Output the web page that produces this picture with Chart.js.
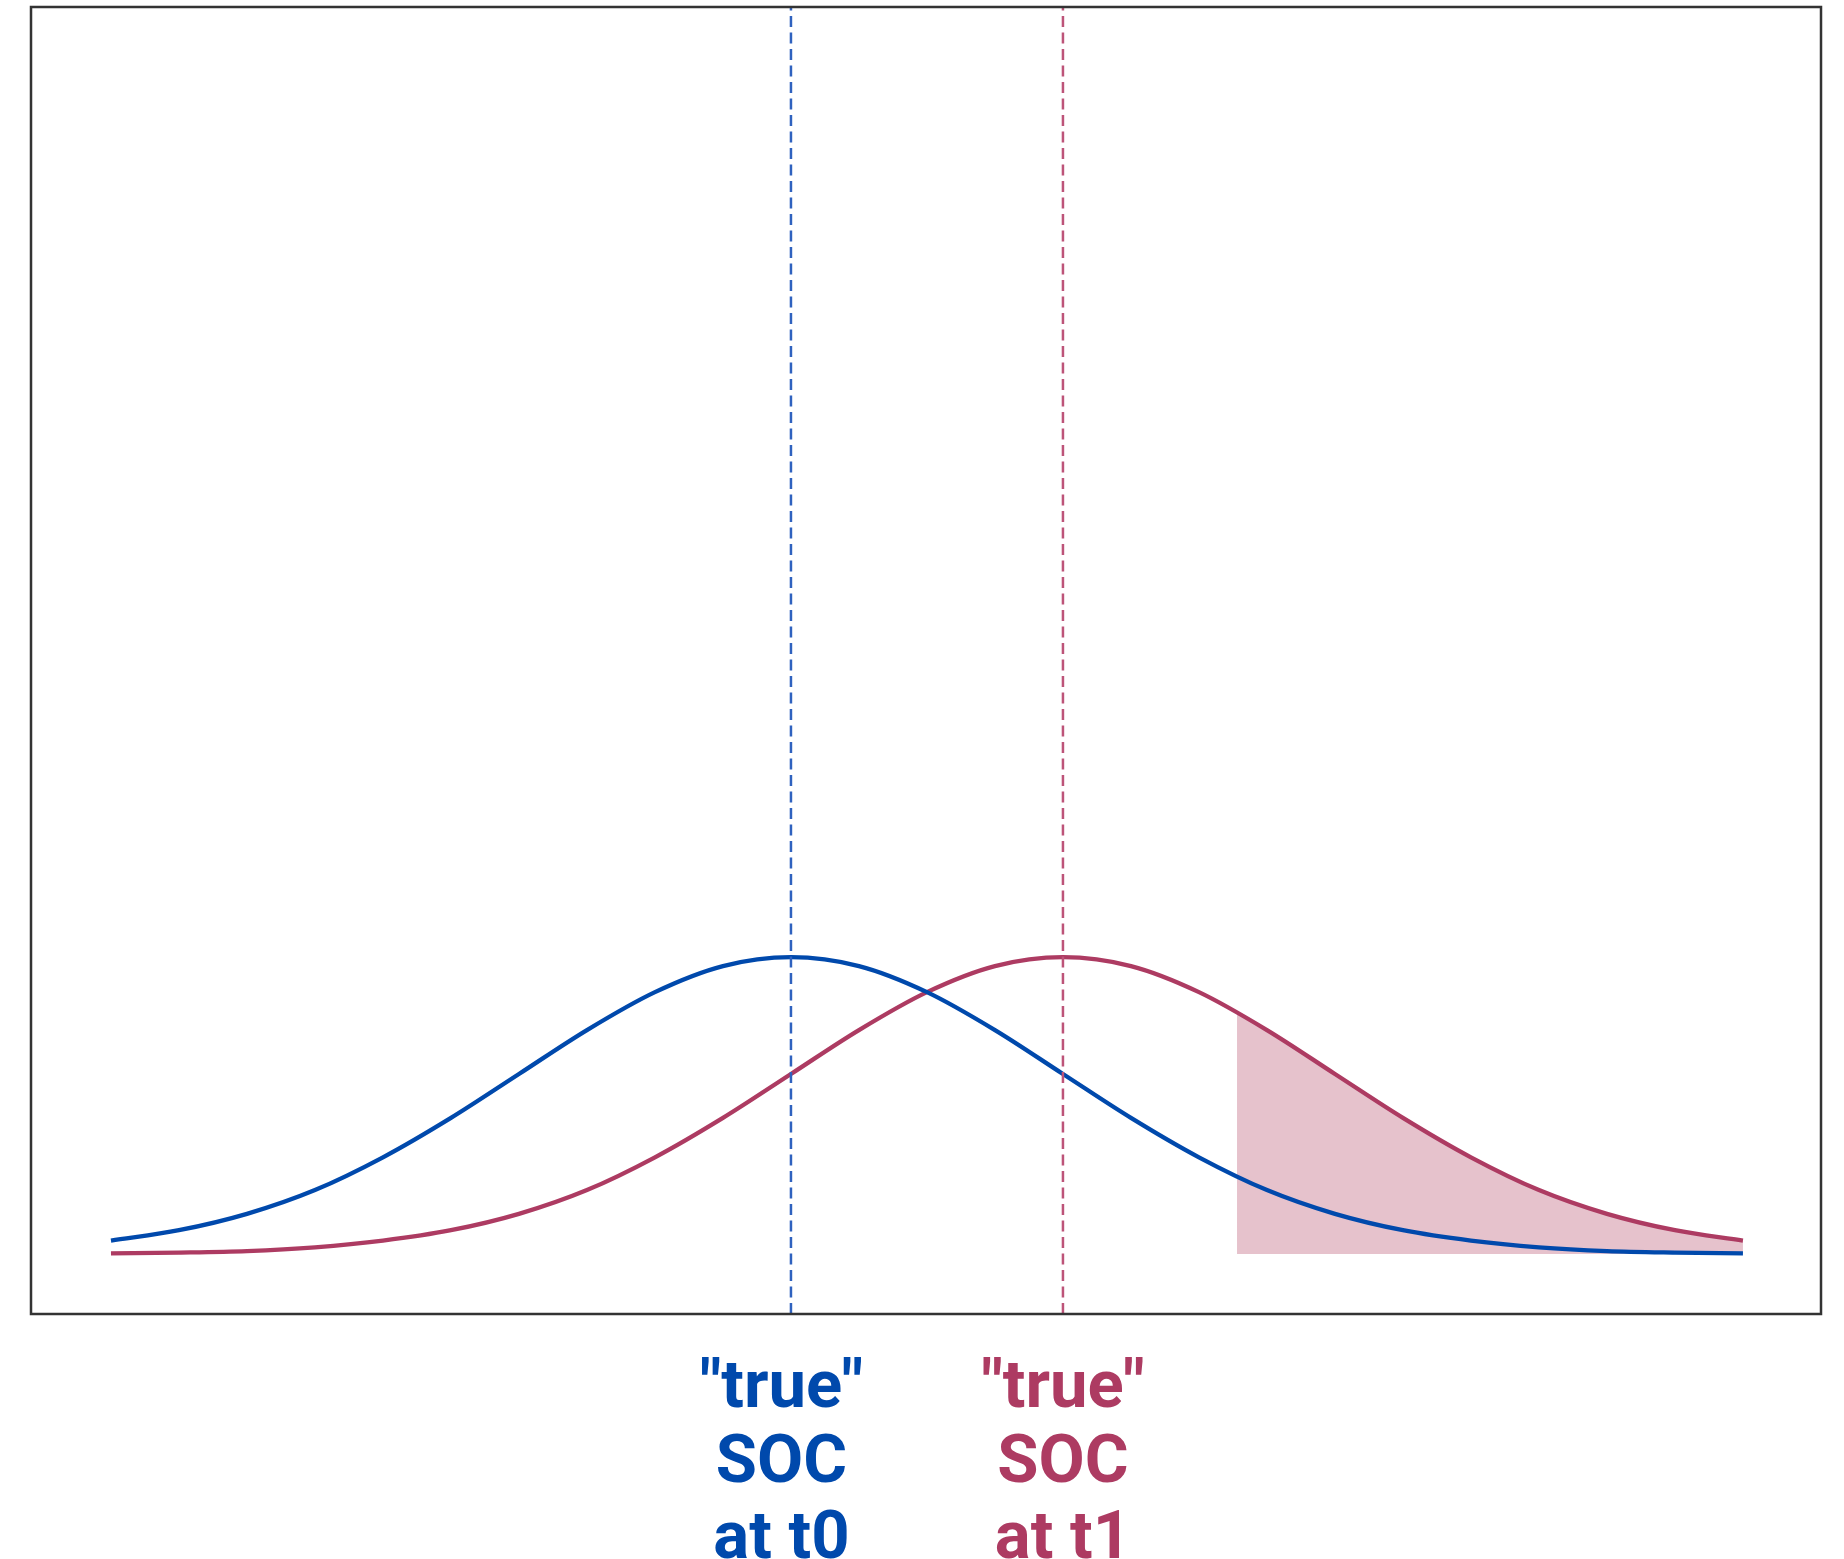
<!DOCTYPE html>
<html>
<head>
<meta charset="utf-8">
<script src="https://cdn.jsdelivr.net/npm/chart.js@4.4.0/dist/chart.umd.min.js"></script>
<style>
  html, body { margin: 0; padding: 0; background: #fff; }
  #wrap { width: 1844px; height: 1559px; }
</style>
</head>
<body>
<div id="wrap"><canvas id="socChart"></canvas></div>
<script>
    // values (x in units of the shift between the two means)
    const xValues = [-2.5, -2.25, -2, -1.75, -1.5, -1.25, -1, -0.75, -0.5, -0.25, 0, 0.25, 0.5, 0.75, 1, 1.25, 1.5, 1.75, 2, 2.25, 2.5, 2.75, 3, 3.25, 3.5];
    const blueDensity = [0.018, 0.032, 0.054, 0.086, 0.130, 0.183, 0.242, 0.301, 0.352, 0.387, 0.399, 0.387, 0.352, 0.301, 0.242, 0.183, 0.130, 0.086, 0.054, 0.032, 0.018, 0.009, 0.004, 0.002, 0.001];
    const redDensity = [0.001, 0.002, 0.004, 0.009, 0.018, 0.032, 0.054, 0.086, 0.130, 0.183, 0.242, 0.301, 0.352, 0.387, 0.399, 0.387, 0.352, 0.301, 0.242, 0.183, 0.130, 0.086, 0.054, 0.032, 0.018];

    // shaded tail of the t1 curve
    const shadeX = [1.64, 1.75, 2, 2.25, 2.5, 2.75, 3, 3.25, 3.5];
    const shadeDensity = [0.325, 0.301, 0.242, 0.183, 0.130, 0.086, 0.054, 0.032, 0.018];

    // "true" SOC markers
    const markerT0 = 0;
    const markerT1 = 1;

    // label positions and text under the plot
    const tickValues = [-0.035, 1];
    const tickLabels = [['"true"', 'SOC', 'at t0'], ['"true"', 'SOC', 'at t1']];
    const tickColors = ['#0049ac', '#ad3b62'];

    const xMin = -2.794, xMax = 3.787;
    const yMin = -0.0806, yMax = 1.676;

    const toPoints = (xs, ys) => xs.map((x, i) => ({ x: x, y: ys[i] }));

    const framePlugin = {
        id: 'frame',
        afterDraw(chart) {
            const a = chart.chartArea;
            const c = chart.ctx;
            c.save();
            c.strokeStyle = '#333333';
            c.lineWidth = 2.5;
            c.strokeRect(a.left, a.top, a.right - a.left, a.bottom - a.top);
            c.restore();
        }
    };

    const ctx = document.getElementById('socChart').getContext('2d');
    const socChart = new Chart(ctx, {
        type: 'line',
        data: {
            datasets: [
                {
                    label: 'tail',
                    data: toPoints(shadeX, shadeDensity),
                    borderWidth: 0,
                    borderColor: 'rgba(0,0,0,0)',
                    backgroundColor: '#e6c2cc',
                    fill: 'origin',
                    pointRadius: 0,
                    cubicInterpolationMode: 'monotone',
                    order: 3
                },
                {
                    label: 'true SOC t0',
                    data: [{ x: markerT0, y: yMin }, { x: markerT0, y: yMax }],
                    borderColor: '#2f62bf',
                    borderWidth: 2.5,
                    borderDash: [11, 5.5],
                    pointRadius: 0,
                    fill: false,
                    order: 1
                },
                {
                    label: 'true SOC t1',
                    data: [{ x: markerT1, y: yMin }, { x: markerT1, y: yMax }],
                    borderColor: '#bd5479',
                    borderWidth: 2.5,
                    borderDash: [11, 5.5],
                    pointRadius: 0,
                    fill: false,
                    order: 1
                },
                {
                    label: 'SOC at t0',
                    data: toPoints(xValues, blueDensity),
                    borderColor: '#0049ac',
                    borderWidth: 4.3,
                    pointRadius: 0,
                    fill: false,
                    cubicInterpolationMode: 'monotone',
                    order: 2
                },
                {
                    label: 'SOC at t1',
                    data: toPoints(xValues, redDensity),
                    borderColor: '#ad3b62',
                    borderWidth: 4.3,
                    pointRadius: 0,
                    fill: false,
                    cubicInterpolationMode: 'monotone',
                    order: 2
                }
            ]
        },
        options: {
            responsive: true,
            maintainAspectRatio: false,
            animation: false,
            layout: { padding: { left: 31, top: 7, right: 23, bottom: 0 } },
            plugins: {
                legend: { display: false },
                tooltip: { enabled: false }
            },
            scales: {
                x: {
                    type: 'linear',
                    min: xMin,
                    max: xMax,
                    grid: { display: false, drawTicks: false },
                    border: { display: false },
                    afterBuildTicks: (scale) => {
                        scale.ticks = tickValues.map(v => ({ value: v }));
                    },
                    afterFit: (scale) => { scale.height = 245; },
                    ticks: {
                        autoSkip: false,
                        maxRotation: 0,
                        padding: 38,
                        color: (c) => tickColors[c.index],
                        font: { family: 'Roboto', size: 67, weight: 'bold', lineHeight: 1.13 },
                        callback: (value, index) => tickLabels[index]
                    }
                },
                y: {
                    display: false,
                    min: yMin,
                    max: yMax
                }
            }
        },
        plugins: [framePlugin]
    });
</script>
</body>
</html>
